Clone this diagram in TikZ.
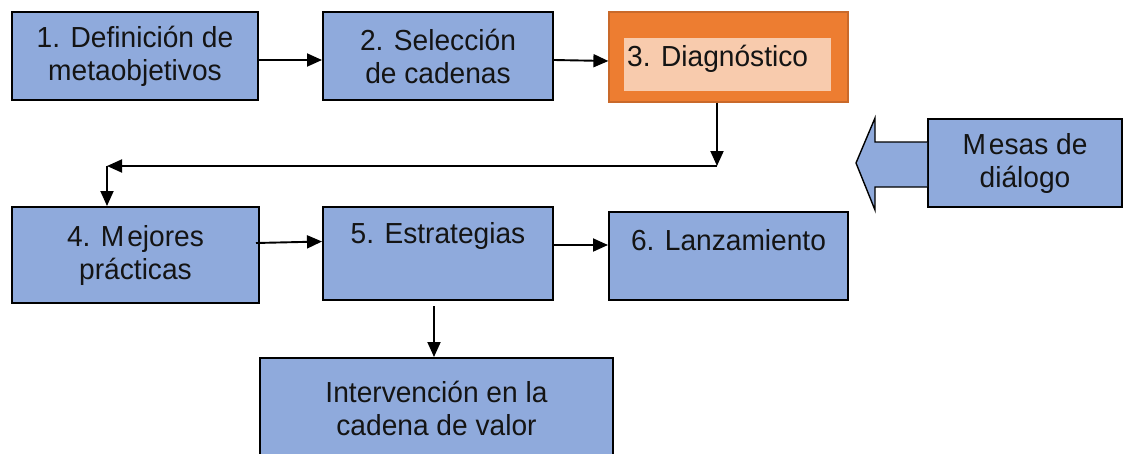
\documentclass[tikz,border=0pt]{standalone}
\usepackage{fontspec}
\setmainfont{Liberation Sans}[FakeStretch=0.97]
\usetikzlibrary{arrows.meta,calc}
\definecolor{boxblue}{HTML}{8FAADC}
\definecolor{orangefill}{HTML}{ED7D31}
\definecolor{orangeedge}{HTML}{C9692A}
\definecolor{orangelight}{HTML}{F8CBAD}
\definecolor{txt}{HTML}{141414}
\tikzset{
  bluebox/.style={draw=black, line width=2pt, fill=boxblue, rectangle, inner sep=0pt,
    align=center, text=txt, font=\fontsize{29}{33}\selectfont},
  conn/.style={draw=black, line width=1.9pt, -{Triangle[length=15pt,width=13pt]}},
}
\begin{document}
\begin{tikzpicture}[x=1pt,y=-1pt]
\useasboundingbox (0,0) rectangle (1127,453);
\fill[white] (0,0) rectangle (1127,453);

\node[bluebox, minimum width=246pt, minimum height=88pt] (b1) at (135,56) {1. Definición de\\metaobjetivos};
\node[bluebox, minimum width=230pt, minimum height=88pt] (b2) at (438,56) {2. Selección\\de cadenas};
\node[draw=orangeedge, line width=1.2pt, fill=orangefill, minimum width=239pt, minimum height=90pt, inner sep=0pt] (b3) at (728.5,57) {};
\node[fill=orangelight, minimum width=207pt, minimum height=53pt, inner sep=0pt] (b3in) at (727.5,64.5) {};
\node[anchor=base west, inner sep=0pt, text=txt, font=\fontsize{29}{33}\selectfont] (b3t) at (627,66) {3. Diagnóstico};

\node[bluebox, minimum width=194pt, minimum height=88pt] (mesas) at (1025,163) {M\kern3pt esas de\\diálogo};
\draw[draw=black, line width=1.4pt, fill=boxblue]
  (mesas.west |- 0,142) -- (875,142) -- (875,118) -- (856,163) -- (875,210) -- (875,187) -- (mesas.west |- 0,187);

\node[bluebox, minimum width=247pt, minimum height=96pt] (b4) at (135.5,255) {4. M\kern3pt ejores\\prácticas};
\node[bluebox, minimum width=230pt, minimum height=93pt] (b5) at (438,253.5) {5. Estrategias\\[9pt]\mbox{}};
\node[bluebox, minimum width=239pt, minimum height=88pt] (b6) at (728.5,256) {6. Lanzamiento\\\mbox{}};
\node[bluebox, minimum width=353pt, minimum height=100pt] (int) at (436.5,408) {Intervención en la\\cadena de valor};

\coordinate (c1) at (717,166);
\coordinate (c2) at (107,166);
\coordinate (s56) at ([yshift=8.5pt]b5.east);
\coordinate (s5d) at ([xshift=-4pt,yshift=-5pt]b5.south);

\draw[conn] ([yshift=-4pt]b1.east) -- ([yshift=-4pt]b2.west);
\draw[conn] ([yshift=-4pt]b2.east) -- ([yshift=-4pt]b3.west);
\draw[conn] (b3.south -| c1) -- (c1);
\draw[conn] (c1) -- (c2);
\draw[conn] (c2) -- (b4.north -| c2);
\draw[conn] ([yshift=12pt,xshift=-4pt]b4.east) -- ([yshift=12pt]b5.west);
\draw[conn] (s56) -- (b6.west |- s56);
\draw[conn] (s5d) -- (int.north -| s5d);
\end{tikzpicture}
\end{document}
